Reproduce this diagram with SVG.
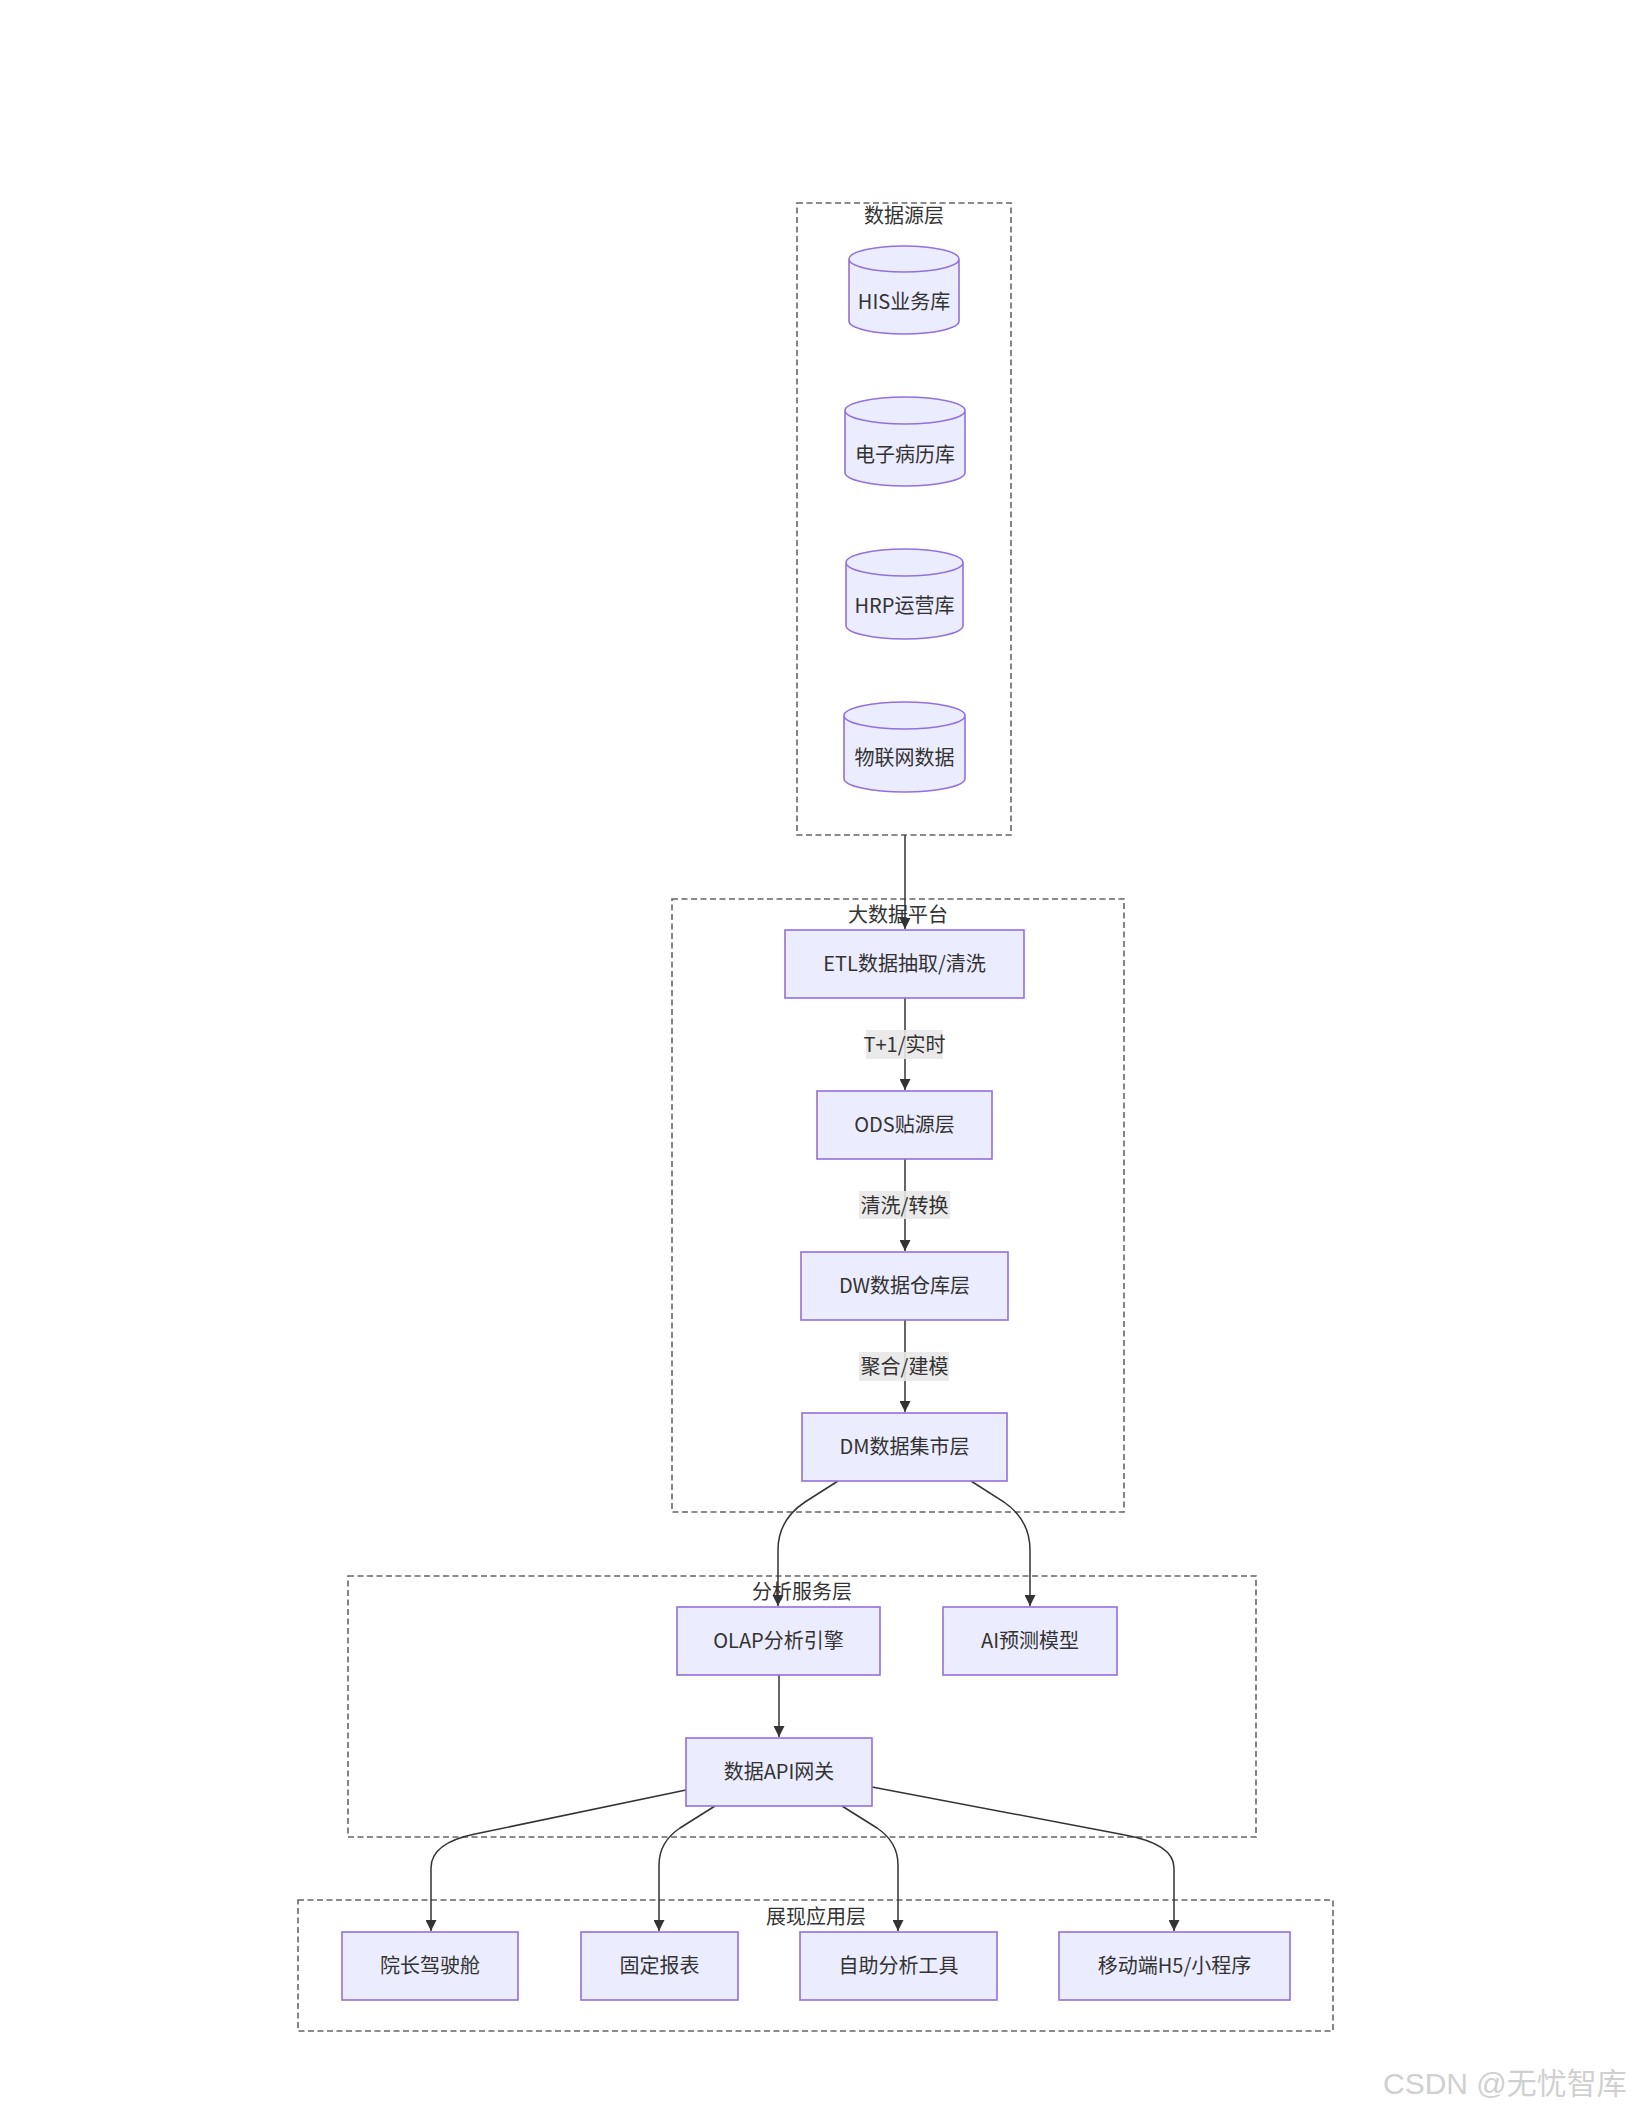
<svg xmlns="http://www.w3.org/2000/svg" width="1632" height="2112" viewBox="0 0 1632 2112">
<style>
  text { font-family: "Noto Sans CJK SC", "Noto Sans", "DejaVu Sans", sans-serif; fill: #333333; }
  .lbl { font-size: 20px; text-anchor: middle; dominant-baseline: central; }
  .ctitle { font-size: 20px; text-anchor: middle; dominant-baseline: central; }
  .node { fill: #ECECFF; stroke: #9370DB; stroke-width: 1.6; }
  .cluster { fill: #ffffff; stroke: #666666; stroke-width: 1.6; stroke-dasharray: 6 3.5; }
  .edge { fill: none; stroke: #333333; stroke-width: 1.5; marker-end: url(#arrow); }
  .elbg { fill: #e8e8e8; fill-opacity: 0.9; }
  .wm { font-family: "Liberation Sans", "Noto Sans CJK SC", sans-serif; font-size: 30px; fill: #d0d0d0; }
</style>
<defs>
  <marker id="arrow" viewBox="0 0 10 10" refX="10" refY="5" markerUnits="userSpaceOnUse" markerWidth="11" markerHeight="11" orient="auto">
    <path d="M0,0 L10,5 L0,10 z" fill="#333333"/>
  </marker>
</defs>
<rect x="0" y="0" width="1632" height="2112" fill="#ffffff"/>

<g id="clusters">
  <g id="cluster-datasource">
    <rect class="cluster" x="797" y="203" width="214" height="632"/>
    <text class="ctitle" x="904" y="214">数据源层</text>
  </g>
  <g id="cluster-bigdata">
    <rect class="cluster" x="672" y="899" width="452" height="613"/>
    <text class="ctitle" x="898" y="913">大数据平台</text>
  </g>
  <g id="cluster-analysis">
    <rect class="cluster" x="348" y="1576" width="908" height="261"/>
    <text class="ctitle" x="802" y="1590">分析服务层</text>
  </g>
  <g id="cluster-display">
    <rect class="cluster" x="298" y="1900" width="1035" height="131"/>
    <text class="ctitle" x="816" y="1915">展现应用层</text>
  </g>
</g>

<g id="edges">
  <path class="edge" d="M905,835 L905,929"/>
  <path class="edge" d="M905,998 L905,1090"/>
  <path class="edge" d="M905,1159 L905,1251"/>
  <path class="edge" d="M905,1320 L905,1412"/>
  <path class="edge" d="M838,1481 L805,1502 Q778,1520 778,1550 L778,1606"/>
  <path class="edge" d="M971,1481 L1004,1502 Q1030,1520 1030,1550 L1030,1606"/>
  <path class="edge" d="M779,1675 L779,1737"/>
  <path class="edge" d="M686,1790 L475,1834 Q431,1843 431,1868 L431,1931"/>
  <path class="edge" d="M715,1806 L680,1828 Q659,1842 659,1865 L659,1931"/>
  <path class="edge" d="M842,1806 L877,1828 Q898,1842 898,1865 L898,1931"/>
  <path class="edge" d="M872,1787 L1125,1835 Q1174,1844 1174,1868 L1174,1931"/>
  <g id="edge-labels">
    <rect class="elbg" x="866" y="1030" width="77" height="29"/>
    <text class="lbl" x="904.5" y="1043.5">T+1/实时</text>
    <rect class="elbg" x="859" y="1191" width="91" height="28"/>
    <text class="lbl" x="904.5" y="1204">清洗/转换</text>
    <rect class="elbg" x="859" y="1352" width="90" height="29"/>
    <text class="lbl" x="904.5" y="1365.5">聚合/建模</text>
  </g>
</g>

<g id="node-his">
  <path class="node" d="M849,259 a55,13 0 0 0 110,0 a55,13 0 0 0 -110,0 l0,62 a55,13 0 0 0 110,0 l0,-62"/>
  <text class="lbl" x="904" y="300.5">HIS业务库</text>
</g>
<g id="node-emr">
  <path class="node" d="M845,410.5 a60,13.5 0 0 0 120,0 a60,13.5 0 0 0 -120,0 l0,62 a60,13.5 0 0 0 120,0 l0,-62"/>
  <text class="lbl" x="905" y="453.5">电子病历库</text>
</g>
<g id="node-hrp">
  <path class="node" d="M846,562.5 a58.5,13.5 0 0 0 117,0 a58.5,13.5 0 0 0 -117,0 l0,63 a58.5,13.5 0 0 0 117,0 l0,-63"/>
  <text class="lbl" x="904.5" y="604.5">HRP运营库</text>
</g>
<g id="node-iot">
  <path class="node" d="M844,715.5 a60.5,13.5 0 0 0 121,0 a60.5,13.5 0 0 0 -121,0 l0,63 a60.5,13.5 0 0 0 121,0 l0,-63"/>
  <text class="lbl" x="904.5" y="756.5">物联网数据</text>
</g>

<g id="node-etl">
  <rect class="node" x="785" y="930" width="239" height="68"/>
  <text class="lbl" x="904.5" y="962.5">ETL数据抽取/清洗</text>
</g>
<g id="node-ods">
  <rect class="node" x="817" y="1091" width="175" height="68"/>
  <text class="lbl" x="904.5" y="1123.5">ODS贴源层</text>
</g>
<g id="node-dw">
  <rect class="node" x="801" y="1252" width="207" height="68"/>
  <text class="lbl" x="904.5" y="1284.5">DW数据仓库层</text>
</g>
<g id="node-dm">
  <rect class="node" x="802" y="1413" width="205" height="68"/>
  <text class="lbl" x="904.5" y="1445.5">DM数据集市层</text>
</g>

<g id="node-olap">
  <rect class="node" x="677" y="1607" width="203" height="68"/>
  <text class="lbl" x="778.5" y="1639.5">OLAP分析引擎</text>
</g>
<g id="node-ai">
  <rect class="node" x="943" y="1607" width="174" height="68"/>
  <text class="lbl" x="1030" y="1639.5">AI预测模型</text>
</g>
<g id="node-api">
  <rect class="node" x="686" y="1738" width="186" height="68"/>
  <text class="lbl" x="779" y="1770.5">数据API网关</text>
</g>

<g id="node-cockpit">
  <rect class="node" x="342" y="1932" width="176" height="68"/>
  <text class="lbl" x="430" y="1964.5">院长驾驶舱</text>
</g>
<g id="node-report">
  <rect class="node" x="581" y="1932" width="157" height="68"/>
  <text class="lbl" x="659.5" y="1964.5">固定报表</text>
</g>
<g id="node-selfservice">
  <rect class="node" x="800" y="1932" width="197" height="68"/>
  <text class="lbl" x="898.5" y="1964.5">自助分析工具</text>
</g>
<g id="node-mobile">
  <rect class="node" x="1059" y="1932" width="231" height="68"/>
  <text class="lbl" x="1174.5" y="1964.5">移动端H5/小程序</text>
</g>

<text class="wm" x="1383" y="2094">CSDN @无忧智库</text>
</svg>
